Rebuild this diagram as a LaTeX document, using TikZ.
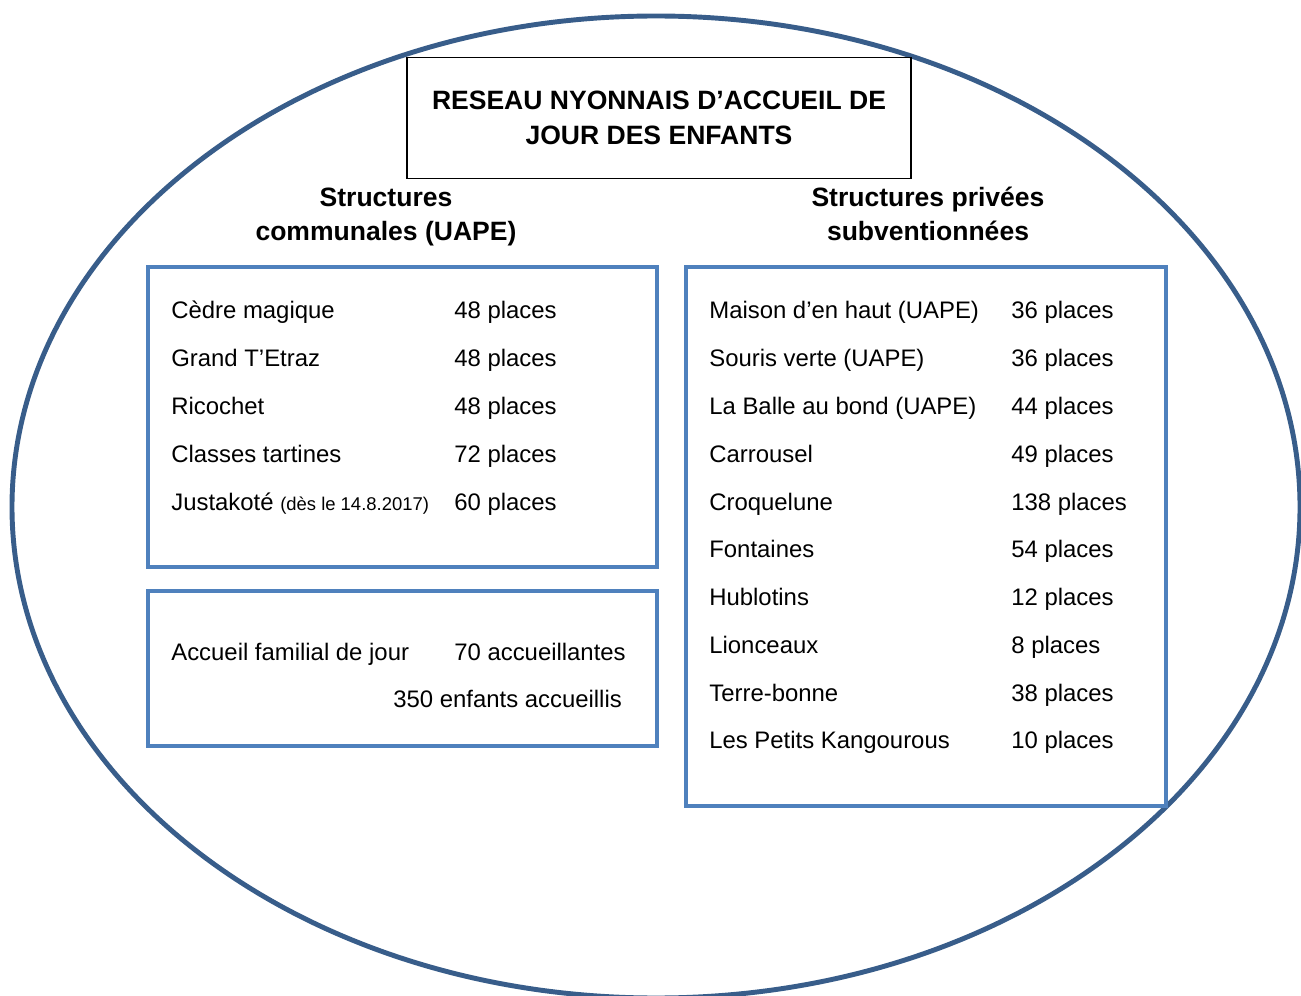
\documentclass[tikz,border=0pt]{standalone}
\usepackage{fontspec}
\setmainfont{Liberation Sans}
\usepackage{xcolor}
\usetikzlibrary{positioning}
\definecolor{ovalblue}{HTML}{385D8A}
\definecolor{boxblue}{HTML}{4F81BD}
\newcommand{\petit}{\fontsize{10.5}{12}\selectfont}

\begin{document}
\begin{tikzpicture}[x=0.02cm,y=-0.02cm,
    item/.style={anchor=base west,inner sep=0pt,font=\fontsize{13.6}{16}\selectfont},
    head/.style={align=center,inner sep=0pt,font=\fontsize{15.1}{19.6}\selectfont\bfseries},
    frame/.style={draw=boxblue,line width=2.25pt}]
\useasboundingbox (0,0) rectangle (1301,996);

% grand ovale
\draw[ovalblue,line width=2.8pt] (656,507) ellipse [x radius=644, y radius=491];

% titre
\node(Titre) [head,draw=black,line width=1.1pt,minimum width=10.08cm,minimum height=2.42cm]
    at (659,118) {RESEAU NYONNAIS D’ACCUEIL DE\\JOUR DES ENFANTS};
\node(Communales) [head] at (386,217) {Structures\\communales (UAPE)};
\node(Privees)    [head] at (928,214) {Structures privées\\subventionnées};

% cadres
\draw[frame] (148,267) rectangle (657,567);
\draw[frame] (148,591) rectangle (657,746);
\draw[frame] (686,267) rectangle (1166,806);

% structures communales
\foreach \nom/\nb [count=\i] in {Cèdre magique/48,Grand T’Etraz/48,Ricochet/48,
    Classes tartines/72,{Justakoté {\petit(dès le 14.8.2017)}}/60} {
\node(com\i)   [item] at (171,{271.25+47.75*\i}) {\nom};
\node(comnb\i) [item] at (454,{271.25+47.75*\i}) {\nb\ places};
}

% accueil familial
\node(Famille)  [item] at (171,660) {Accueil familial de jour};
\node(Accueil)  [item] at (454,660) {70 accueillantes};
\node(Enfants)  [item] at (393,707) {350 enfants accueillis};

% structures privees
\foreach \nom/\nb [count=\i] in {Maison d’en haut (UAPE)/36,Souris verte (UAPE)/36,
    La Balle au bond (UAPE)/44,Carrousel/49,Croquelune/138,Fontaines/54,
    Hublotins/12,Lionceaux/8,Terre-bonne/38,Les Petits Kangourous/10} {
\node(priv\i)   [item] at (709,{271.25+47.75*\i}) {\nom};
\node(privnb\i) [item] at (1011,{271.25+47.75*\i}) {\nb\ places};
}
\end{tikzpicture}
\end{document}
